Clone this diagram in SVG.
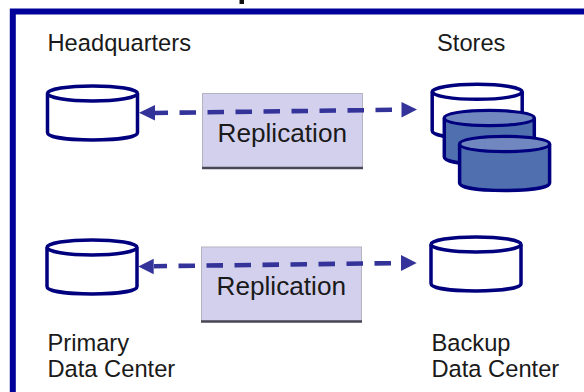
<svg xmlns="http://www.w3.org/2000/svg" width="584" height="392" viewBox="0 0 584 392">
<style>
text{font-family:"Liberation Sans",Arial,sans-serif;fill:#1a1a1a}
.l{font-size:23.7px}
.r{font-size:26.200px}
.box{fill:#d3d0ee;stroke:#b4b4c0;stroke-width:1}
.sh{stroke:#4a4656;stroke-width:2.400;fill:none}
.cyl{stroke:#00007f;stroke-width:3.500}
.w{fill:#fff}
.b{fill:#4f6fae}
.bt{fill:#7088bf}
.c{stroke:#33339a;stroke-width:4.6;stroke-dasharray:16.500 11.500;fill:none}
.h{fill:#33339a}
</style>
<defs>
<g id="cy"><path d="M1 9V48C1 52.500 20 55.500 46 55.500S91 52.500 91 48V9"/><ellipse cx="46" cy="9" rx="45" ry="7.500"/></g>
</defs>
<rect x="12.800" y="11.500" width="580" height="390" fill="#fff" stroke="#00009a" stroke-width="6"/>
<rect x="239.500" y="0" width="4.500" height="4" fill="#111"/>
<g id="boxes">
<g id="rep1"><rect class="box" x="202.500" y="93.500" width="160" height="74"/><path class="sh" d="M202 168H363"/><text class="r" x="217.500" y="141.500">Replication</text></g>
<g id="rep2"><rect class="box" x="201.500" y="247" width="160" height="74"/><path class="sh" d="M201 321.500H362"/><text class="r" x="216.500" y="295">Replication</text></g>
</g>
<g id="connectors">
<path class="c" d="M392 109.800L155 113"/><path class="h" d="M139 112.800L155 105V120.600Z"/><path class="h" d="M417 109.600L401.500 102V117.500Z"/>
<path class="c" d="M391 263.200L154 266.200"/><path class="h" d="M138.300 266.500L153.700 258.700V274.300Z"/><path class="h" d="M416.700 263L401 255V271Z"/>
</g>
<g id="hq"><use href="#cy" class="cyl w" x="46.500" y="84.400"/><text class="l" x="47.500" y="51">Headquarters</text></g>
<g id="stores"><use href="#cy" class="cyl w" x="431.200" y="82.800"/><use href="#cy" class="cyl b" x="443.300" y="109"/><ellipse class="bt" cx="489.300" cy="118" rx="43.400" ry="5.900"/><use href="#cy" class="cyl b" x="458.600" y="135"/><ellipse class="bt" cx="504.600" cy="144" rx="43.400" ry="5.900"/><text class="l" x="437" y="51">Stores</text></g>
<g id="pdc"><use href="#cy" class="cyl w" x="46" y="238.400"/><text class="l" x="47.500" y="350.500">Primary</text><text class="l" x="47.500" y="376.500">Data Center</text></g>
<g id="bdc"><use href="#cy" class="cyl w" x="430" y="235.400"/><text class="l" x="431.500" y="350.500">Backup</text><text class="l" x="431.500" y="376.500">Data Center</text></g>
</svg>
